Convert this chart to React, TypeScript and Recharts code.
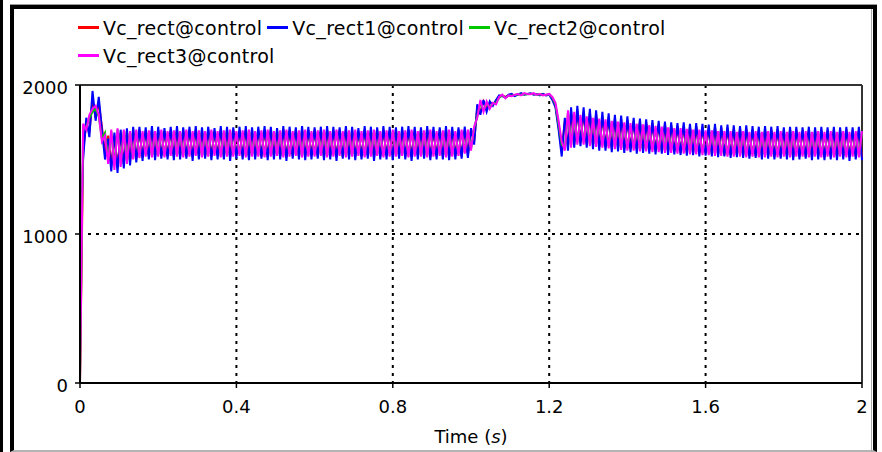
import React from 'react';
import { LineChart, Line, XAxis, YAxis, CartesianGrid, ReferenceLine } from 'recharts';

// sample spacing of the simulation output (s)
const SAMPLE_STEP = 0.008;

const xTicks = [0, 0.4, 0.8, 1.2, 1.6, 2];
const yTicks = [0, 1000, 2000];

const seriesNames = ['Vc_rect@control', 'Vc_rect1@control', 'Vc_rect2@control', 'Vc_rect3@control'];

// Vc_rect@control (red)
const vcRect = [
  0, 1560, 1740, 1680, 1900, 1780, 1880, 1720, 1540, 1660,
  1460, 1660, 1450, 1680, 1470, 1690, 1490, 1700, 1500, 1700,
  1515, 1695, 1525, 1700, 1520, 1695, 1525, 1690, 1520, 1700,
  1520, 1700, 1525, 1695, 1520, 1700, 1515, 1700, 1525, 1695,
  1520, 1700, 1520, 1690, 1525, 1700, 1520, 1695, 1515, 1700,
  1525, 1695, 1520, 1700, 1520, 1695, 1525, 1700, 1520, 1700,
  1515, 1700, 1525, 1690, 1520, 1700, 1515, 1695, 1525, 1700,
  1520, 1700, 1520, 1695, 1525, 1700, 1520, 1695, 1515, 1700,
  1525, 1695, 1515, 1700, 1520, 1700, 1525, 1695, 1520, 1690,
  1520, 1700, 1525, 1695, 1515, 1700, 1520, 1700, 1525, 1695,
  1520, 1700, 1525, 1695, 1520, 1700, 1515, 1695, 1525, 1700,
  1520, 1700, 1515, 1695, 1525, 1700, 1520, 1700, 1515, 1695,
  1525, 1700, 1520, 1700, 1530, 1700, 1620, 1850, 1820, 1890,
  1840, 1880, 1870, 1895, 1925, 1930, 1920, 1930, 1935, 1930,
  1938, 1940, 1938, 1940, 1942, 1938, 1938, 1935, 1938, 1932,
  1936, 1910, 1860, 1720, 1560, 1760, 1590, 1820, 1600, 1830,
  1610, 1820, 1600, 1810, 1595, 1800, 1585, 1790, 1580, 1785,
  1575, 1775, 1575, 1770, 1570, 1765, 1570, 1760, 1565, 1755,
  1565, 1750, 1560, 1745, 1555, 1740, 1555, 1735, 1550, 1730,
  1550, 1725, 1545, 1725, 1545, 1720, 1540, 1720, 1540, 1715,
  1540, 1715, 1535, 1715, 1535, 1710, 1530, 1710, 1530, 1705,
  1530, 1705, 1525, 1705, 1525, 1700, 1525, 1700, 1520, 1700,
  1520, 1700, 1520, 1700, 1520, 1695, 1520, 1700, 1515, 1700,
  1520, 1695, 1520, 1700, 1515, 1695, 1520, 1700, 1515, 1695,
  1520, 1700, 1515, 1695, 1520, 1700, 1515, 1695, 1520, 1700,
  1515,
];

// Vc_rect1@control (blue)
const vcRect1 = [
  880, 1500, 1780, 1650, 1960, 1760, 1920, 1700, 1500, 1640,
  1420, 1680, 1410, 1700, 1440, 1710, 1460, 1720, 1480, 1720,
  1490, 1715, 1500, 1725, 1495, 1720, 1505, 1710, 1500, 1720,
  1495, 1725, 1500, 1715, 1505, 1720, 1490, 1725, 1500, 1715,
  1505, 1720, 1495, 1710, 1500, 1725, 1500, 1720, 1490, 1715,
  1505, 1720, 1500, 1725, 1495, 1715, 1500, 1720, 1505, 1725,
  1495, 1720, 1500, 1710, 1500, 1725, 1490, 1720, 1505, 1715,
  1500, 1725, 1495, 1720, 1500, 1715, 1505, 1720, 1495, 1725,
  1500, 1720, 1490, 1715, 1505, 1725, 1500, 1720, 1495, 1710,
  1500, 1725, 1505, 1720, 1490, 1715, 1500, 1725, 1500, 1720,
  1495, 1715, 1505, 1720, 1500, 1725, 1490, 1720, 1500, 1715,
  1505, 1725, 1495, 1720, 1500, 1715, 1500, 1725, 1495, 1720,
  1500, 1715, 1505, 1720, 1510, 1710, 1600, 1870, 1800, 1900,
  1820, 1890, 1860, 1900, 1930, 1925, 1915, 1935, 1940, 1925,
  1935, 1945, 1935, 1940, 1945, 1935, 1940, 1930, 1940, 1930,
  1935, 1900, 1850, 1700, 1520, 1780, 1560, 1850, 1580, 1860,
  1590, 1850, 1580, 1840, 1570, 1830, 1560, 1820, 1560, 1810,
  1550, 1800, 1555, 1795, 1545, 1790, 1550, 1780, 1540, 1775,
  1545, 1770, 1540, 1765, 1535, 1760, 1540, 1755, 1530, 1750,
  1535, 1745, 1530, 1750, 1525, 1740, 1530, 1745, 1520, 1740,
  1525, 1735, 1520, 1740, 1515, 1730, 1520, 1735, 1510, 1730,
  1515, 1725, 1510, 1730, 1505, 1725, 1510, 1720, 1500, 1725,
  1505, 1720, 1500, 1725, 1505, 1715, 1500, 1720, 1495, 1720,
  1500, 1715, 1505, 1720, 1495, 1715, 1500, 1720, 1495, 1715,
  1500, 1720, 1495, 1715, 1500, 1720, 1490, 1715, 1500, 1720,
  1495,
];

// Vc_rect2@control (green)
const vcRect2 = [
  0, 1720, 1720, 1780, 1820, 1840, 1790, 1640, 1680, 1500,
  1690, 1460, 1700, 1480, 1690, 1490, 1680, 1510, 1690, 1520,
  1680, 1530, 1685, 1525, 1680, 1530, 1690, 1525, 1680, 1535,
  1685, 1530, 1680, 1525, 1690, 1530, 1680, 1535, 1685, 1525,
  1680, 1530, 1690, 1535, 1680, 1525, 1685, 1530, 1690, 1530,
  1680, 1535, 1685, 1525, 1690, 1530, 1680, 1530, 1685, 1525,
  1690, 1530, 1680, 1535, 1685, 1525, 1690, 1530, 1680, 1535,
  1685, 1525, 1690, 1530, 1680, 1530, 1685, 1535, 1690, 1525,
  1680, 1530, 1690, 1535, 1680, 1525, 1685, 1530, 1690, 1535,
  1680, 1525, 1685, 1530, 1690, 1535, 1680, 1525, 1685, 1530,
  1690, 1530, 1680, 1535, 1685, 1525, 1690, 1530, 1680, 1530,
  1685, 1525, 1690, 1530, 1680, 1535, 1685, 1525, 1690, 1530,
  1680, 1535, 1690, 1550, 1690, 1570, 1710, 1790, 1880, 1830,
  1880, 1850, 1875, 1880, 1915, 1930, 1915, 1928, 1930, 1932,
  1938, 1935, 1940, 1938, 1940, 1942, 1937, 1938, 1933, 1934,
  1938, 1915, 1870, 1740, 1600, 1580, 1810, 1600, 1800, 1615,
  1785, 1615, 1775, 1605, 1765, 1600, 1760, 1595, 1755, 1590,
  1745, 1585, 1740, 1580, 1735, 1575, 1730, 1575, 1725, 1570,
  1720, 1570, 1715, 1565, 1710, 1565, 1705, 1560, 1700, 1560,
  1700, 1555, 1695, 1555, 1690, 1550, 1690, 1550, 1685, 1545,
  1685, 1545, 1680, 1540, 1680, 1540, 1675, 1535, 1675, 1535,
  1675, 1535, 1675, 1530, 1675, 1535, 1675, 1530, 1670, 1530,
  1675, 1535, 1670, 1530, 1675, 1535, 1670, 1530, 1675, 1535,
  1670, 1535, 1675, 1530, 1670, 1535, 1675, 1530, 1670, 1535,
  1675, 1530, 1670, 1535, 1675, 1530, 1670, 1535, 1675, 1530,
  1675,
];

// Vc_rect3@control (magenta)
const vcRect3 = [
  0, 1740, 1700, 1800, 1840, 1860, 1800, 1620, 1660, 1470,
  1700, 1430, 1710, 1450, 1700, 1470, 1690, 1500, 1700, 1510,
  1690, 1520, 1695, 1515, 1690, 1520, 1700, 1515, 1690, 1525,
  1695, 1520, 1690, 1515, 1700, 1520, 1690, 1525, 1695, 1515,
  1690, 1520, 1700, 1525, 1690, 1515, 1695, 1520, 1700, 1520,
  1690, 1525, 1695, 1515, 1700, 1520, 1690, 1520, 1695, 1515,
  1700, 1520, 1690, 1525, 1695, 1515, 1700, 1520, 1690, 1525,
  1695, 1515, 1700, 1520, 1690, 1520, 1695, 1525, 1700, 1515,
  1690, 1520, 1700, 1525, 1690, 1515, 1695, 1520, 1700, 1525,
  1690, 1515, 1695, 1520, 1700, 1525, 1690, 1515, 1695, 1520,
  1700, 1520, 1690, 1525, 1695, 1515, 1700, 1520, 1690, 1520,
  1695, 1515, 1700, 1520, 1690, 1525, 1695, 1515, 1700, 1520,
  1690, 1525, 1700, 1540, 1700, 1560, 1720, 1780, 1900, 1820,
  1890, 1840, 1880, 1870, 1920, 1935, 1910, 1930, 1925, 1935,
  1940, 1930, 1945, 1940, 1938, 1945, 1935, 1940, 1930, 1935,
  1940, 1920, 1880, 1760, 1620, 1560, 1830, 1580, 1820, 1600,
  1800, 1600, 1790, 1590, 1780, 1585, 1775, 1580, 1770, 1575,
  1760, 1570, 1755, 1565, 1750, 1560, 1745, 1560, 1740, 1555,
  1735, 1555, 1730, 1550, 1725, 1550, 1720, 1545, 1715, 1545,
  1710, 1540, 1710, 1540, 1705, 1535, 1700, 1535, 1700, 1530,
  1695, 1530, 1695, 1525, 1690, 1525, 1690, 1520, 1690, 1520,
  1685, 1520, 1690, 1515, 1685, 1520, 1690, 1515, 1685, 1515,
  1690, 1520, 1685, 1515, 1690, 1520, 1685, 1515, 1690, 1520,
  1685, 1520, 1690, 1515, 1685, 1520, 1690, 1515, 1685, 1520,
  1690, 1515, 1685, 1520, 1690, 1515, 1685, 1520, 1690, 1515,
  1690,
];

const colors = ['#ff0000', '#0000ff', '#00c800', '#ff00ff'];
const keys = ['rect', 'rect1', 'rect2', 'rect3'];

const data = vcRect.map((v, i) => ({
  t: Math.round(i * SAMPLE_STEP * 1000) / 1000,
  rect: v,
  rect1: vcRect1[i],
  rect2: vcRect2[i],
  rect3: vcRect3[i],
}));

const FONT = 'DejaVu Sans, Verdana, sans-serif';

const TimeLabel = (props: any) => {
  const vb = props.viewBox || { x: 80, y: 383, width: 782, height: 61 };
  return (
    <text
      x={vb.x + vb.width / 2}
      y={vb.y + 60}
      textAnchor="middle"
      fontSize={18}
      fontFamily={FONT}
      fill="#000"
    >
      Time (<tspan fontStyle="italic">s</tspan>)
    </text>
  );
};

const LegendItem = ({ name, color }: { name: string; color: string }) => (
  <div style={{ display: 'flex', alignItems: 'center', marginRight: 5 }}>
    <span style={{ display: 'inline-block', width: 21, height: 3, background: color, marginRight: 4, position: 'relative', top: -1 }} />
    <span style={{ whiteSpace: 'nowrap' }}>{name}</span>
  </div>
);

export default function App() {
  return (
    <div
      style={{
        position: 'absolute',
        left: 0,
        top: 0,
        width: 882,
        height: 452,
        background: '#fff',
        overflow: 'hidden',
      }}
    >
      {/* outer frame decorations */}
      <div style={{ position: 'absolute', left: 0, top: 0, width: 3, height: 452, background: '#000' }} />
      <div style={{ position: 'absolute', left: 10, top: 4, width: 867, height: 1, background: '#999' }} />
      <div
        style={{
          position: 'absolute',
          left: 10,
          top: 5,
          width: 867,
          height: 447,
          boxSizing: 'border-box',
          borderLeft: '4px solid #000',
          borderTop: '4px solid #000',
          borderRight: '4px solid #000',
          borderBottom: '2px solid #b4b4b4',
        }}
      />
      <div style={{ position: 'absolute', left: 871, top: 9, width: 1, height: 443, background: '#aaa' }} />

      {/* legend */}
      <div
        style={{
          position: 'absolute',
          left: 78,
          top: 14,
          fontFamily: FONT,
          fontSize: 19,
          letterSpacing: 0.3,
          color: '#000',
        }}
      >
        <div style={{ display: 'flex', height: 28, alignItems: 'center' }}>
          {[0, 1, 2].map((k) => (
            <LegendItem key={k} name={seriesNames[k]} color={colors[k]} />
          ))}
        </div>
        <div style={{ display: 'flex', height: 28, alignItems: 'center' }}>
          <LegendItem name={seriesNames[3]} color={colors[3]} />
        </div>
      </div>

      <div style={{ position: 'absolute', left: 0, top: 0 }}>
        <LineChart width={882} height={452} data={data} margin={{ top: 85, right: 20, bottom: 8, left: 0 }}>
          <CartesianGrid
            horizontal={true}
            vertical={true}
            horizontalValues={[1000]}
            verticalValues={[0.4, 0.8, 1.2, 1.6]}
            stroke="#000"
            strokeWidth={2}
            strokeDasharray="3 5"
          />
          <XAxis
            dataKey="t"
            type="number"
            domain={[0, 2]}
            ticks={xTicks}
            interval={0}
            height={61}
            tickSize={5}
            tickMargin={12}
            axisLine={{ stroke: '#000', strokeWidth: 2 }}
            tickLine={{ stroke: '#000', strokeWidth: 1.5 }}
            tick={{ fontSize: 18, fontFamily: FONT, fill: '#000' }}
            tickFormatter={(v: number) => String(v)}
            label={<TimeLabel />}
          />
          <YAxis
            type="number"
            domain={[0, 2000]}
            ticks={yTicks}
            interval={0}
            width={80}
            tickSize={5}
            tickMargin={7}
            axisLine={{ stroke: '#000', strokeWidth: 2 }}
            tickLine={{ stroke: '#000', strokeWidth: 1.5 }}
            tick={{ fontSize: 18, fontFamily: FONT, fill: '#000', dy: 3 }}
          />
          <ReferenceLine y={2000} stroke="#333" strokeWidth={2} />
          <ReferenceLine x={2} stroke="#333" strokeWidth={2} />
          {keys.map((k, i) => (
            <Line
              key={k}
              dataKey={k}
              name={seriesNames[i]}
              type="linear"
              stroke={colors[i]}
              strokeWidth={2}
              dot={false}
              activeDot={false}
              isAnimationActive={false}
            />
          ))}
        </LineChart>
      </div>
    </div>
  );
}
